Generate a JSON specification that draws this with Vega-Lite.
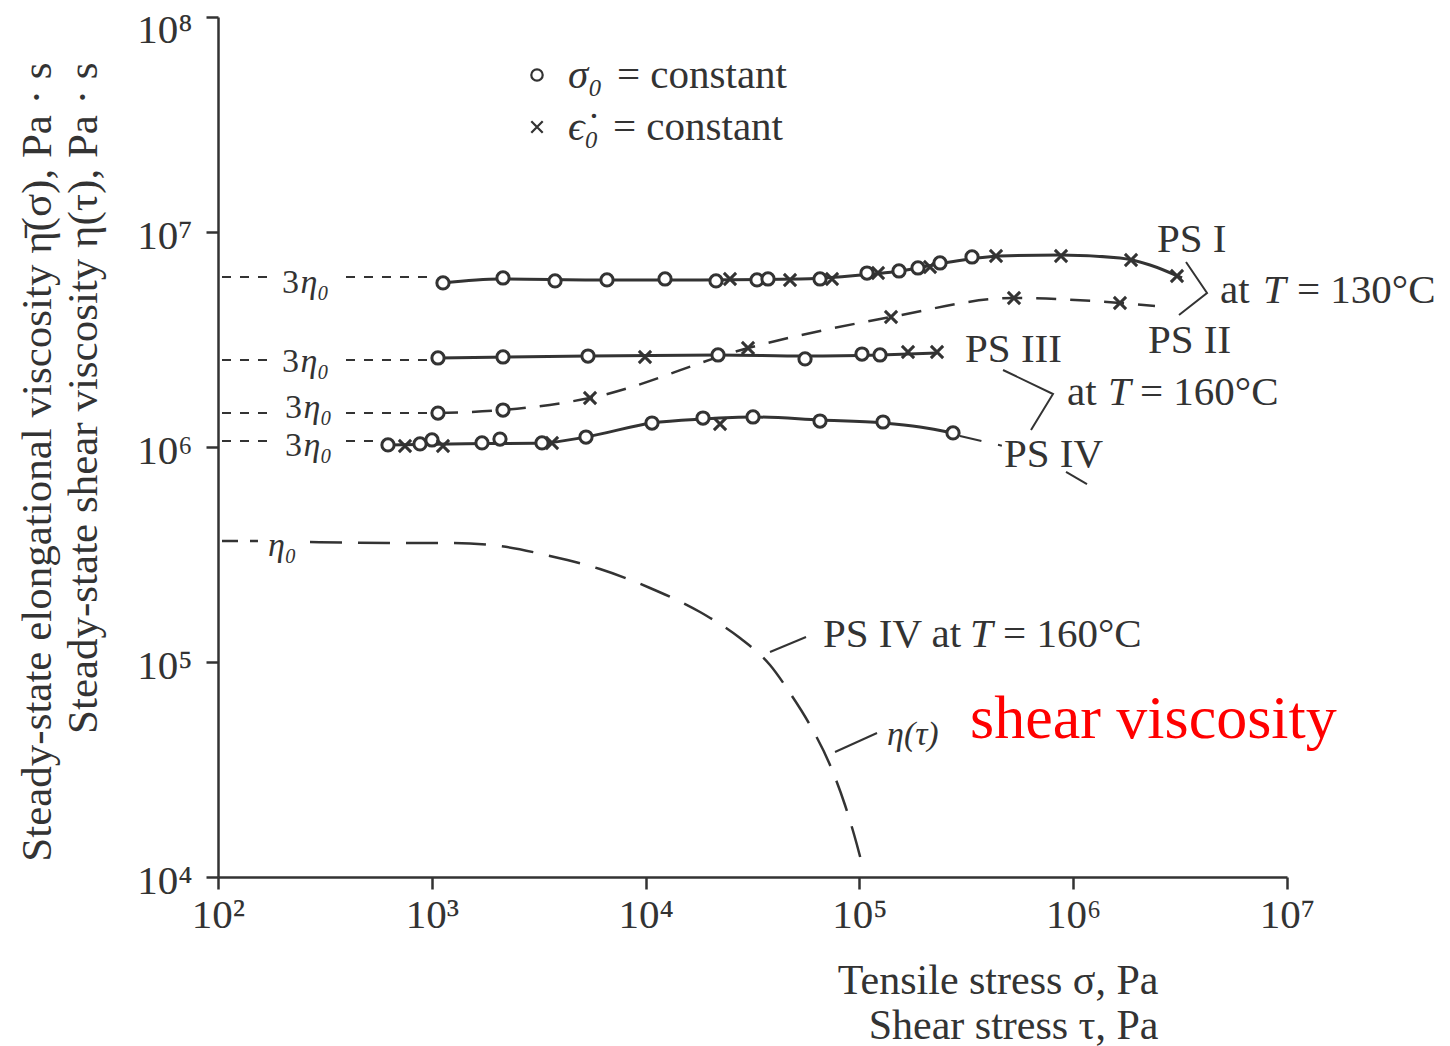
{
  "$schema": "https://vega.github.io/schema/vega-lite/v6.json",
  "width": 1069,
  "height": 860,
  "autosize": {"type": "none"},
  "padding": {"left": 218, "top": 17, "right": 163, "bottom": 169},
  "background": "white",
  "config": {
    "view": {"stroke": null},
    "font": "Liberation Serif"
  },
  "datasets": {
    "curves": [
      {"s": "PS I", "x": 1128, "y": 5793000}, {"s": "PS I", "x": 2084, "y": 6046000}, {"s": "PS I", "x": 6119, "y": 5982000},
      {"s": "PS I", "x": 17970, "y": 5982000}, {"s": "PS I", "x": 52757, "y": 6046000}, {"s": "PS I", "x": 90360, "y": 6243000},
      {"s": "PS I", "x": 154860, "y": 6586000}, {"s": "PS I", "x": 265300, "y": 7252000}, {"s": "PS I", "x": 454650, "y": 7734000},
      {"s": "PS I", "x": 867600, "y": 7817000}, {"s": "PS I", "x": 1655000, "y": 7570000}, {"s": "PS I", "x": 2287000, "y": 7023000},
      {"s": "PS I", "x": 3228000, "y": 6111000},
      {"s": "PS III", "x": 1069, "y": 2594000}, {"s": "PS III", "x": 5378, "y": 2650000}, {"s": "PS III", "x": 21817, "y": 2679000},
      {"s": "PS III", "x": 55680, "y": 2650000}, {"s": "PS III", "x": 124850, "y": 2679000}, {"s": "PS III", "x": 230700, "y": 2736000},
      {"s": "PS IV", "x": 623.9, "y": 1022000}, {"s": "PS IV", "x": 1217, "y": 1033000}, {"s": "PS IV", "x": 3276, "y": 1044000},
      {"s": "PS IV", "x": 5263, "y": 1113000}, {"s": "PS IV", "x": 10713, "y": 1293000}, {"s": "PS IV", "x": 18555, "y": 1350000},
      {"s": "PS IV", "x": 31793, "y": 1379000}, {"s": "PS IV", "x": 65423, "y": 1335000}, {"s": "PS IV", "x": 128950, "y": 1293000},
      {"s": "PS IV", "x": 192030, "y": 1239000}, {"s": "PS IV", "x": 274050, "y": 1162000}
    ],
    "ps2": [
      {"x": 1069, "y": 1439000}, {"x": 2153, "y": 1486000}, {"x": 5495, "y": 1690000}, {"x": 30128, "y": 2887000},
      {"x": 140570, "y": 4024000}, {"x": 528500, "y": 4932000}, {"x": 1655000, "y": 4675000}, {"x": 2413000, "y": 4528000}
    ],
    "marks": [
      {"s": "PS I", "x": 1128, "y": 5793000, "m": "o"}, {"s": "PS I", "x": 2153, "y": 6111000, "m": "o"},
      {"s": "PS I", "x": 3770, "y": 5918000, "m": "o"}, {"s": "PS I", "x": 6598, "y": 5982000, "m": "o"},
      {"s": "PS I", "x": 12325, "y": 6046000, "m": "o"}, {"s": "PS I", "x": 21352, "y": 5918000, "m": "o"},
      {"s": "PS I", "x": 24812, "y": 6046000, "m": "x"}, {"s": "PS I", "x": 33195, "y": 5982000, "m": "o"},
      {"s": "PS I", "x": 37369, "y": 6046000, "m": "o"}, {"s": "PS I", "x": 47365, "y": 5982000, "m": "x"},
      {"s": "PS I", "x": 65423, "y": 6046000, "m": "o"}, {"s": "PS I", "x": 74453, "y": 6046000, "m": "x"},
      {"s": "PS I", "x": 108530, "y": 6446000, "m": "o"}, {"s": "PS I", "x": 122190, "y": 6446000, "m": "x"},
      {"s": "PS I", "x": 153200, "y": 6586000, "m": "o"}, {"s": "PS I", "x": 187950, "y": 6801000, "m": "o"},
      {"s": "PS I", "x": 213900, "y": 6875000, "m": "x"}, {"s": "PS I", "x": 238280, "y": 7175000, "m": "o"},
      {"s": "PS I", "x": 336330, "y": 7652000, "m": "o"}, {"s": "PS I", "x": 435500, "y": 7734000, "m": "x"},
      {"s": "PS I", "x": 877000, "y": 7734000, "m": "x"}, {"s": "PS I", "x": 1864000, "y": 7409000, "m": "x"},
      {"s": "PS I", "x": 3058000, "y": 6243000, "m": "x"},
      {"s": "PS III", "x": 1069, "y": 2594000, "m": "o"}, {"s": "PS III", "x": 2153, "y": 2622000, "m": "o"},
      {"s": "PS III", "x": 5378, "y": 2650000, "m": "o"}, {"s": "PS III", "x": 9935, "y": 2622000, "m": "x"},
      {"s": "PS III", "x": 21817, "y": 2679000, "m": "o"}, {"s": "PS III", "x": 55680, "y": 2567000, "m": "o"},
      {"s": "PS III", "x": 102840, "y": 2707000, "m": "o"}, {"s": "PS III", "x": 124850, "y": 2679000, "m": "o"},
      {"s": "PS III", "x": 168780, "y": 2766000, "m": "x"}, {"s": "PS III", "x": 230700, "y": 2766000, "m": "x"},
      {"s": "PS II", "x": 1069, "y": 1439000, "m": "o"}, {"s": "PS II", "x": 2153, "y": 1486000, "m": "o"},
      {"s": "PS II", "x": 5495, "y": 1690000, "m": "x"}, {"s": "PS II", "x": 30128, "y": 2887000, "m": "x"},
      {"s": "PS II", "x": 140570, "y": 4024000, "m": "x"}, {"s": "PS II", "x": 528500, "y": 4932000, "m": "x"},
      {"s": "PS II", "x": 1655000, "y": 4675000, "m": "x"},
      {"s": "PS IV", "x": 623.9, "y": 1022000, "m": "o"}, {"s": "PS IV", "x": 749.2, "y": 1011000, "m": "x"},
      {"s": "PS IV", "x": 880.9, "y": 1033000, "m": "o"}, {"s": "PS IV", "x": 1002, "y": 1078000, "m": "o"},
      {"s": "PS IV", "x": 1128, "y": 1011000, "m": "x"}, {"s": "PS IV", "x": 1717, "y": 1044000, "m": "o"},
      {"s": "PS IV", "x": 2084, "y": 1089000, "m": "o"}, {"s": "PS IV", "x": 3276, "y": 1044000, "m": "o"},
      {"s": "PS IV", "x": 3649, "y": 1044000, "m": "x"}, {"s": "PS IV", "x": 5263, "y": 1113000, "m": "o"},
      {"s": "PS IV", "x": 10713, "y": 1293000, "m": "o"}, {"s": "PS IV", "x": 18555, "y": 1364000, "m": "o"},
      {"s": "PS IV", "x": 22292, "y": 1279000, "m": "x"}, {"s": "PS IV", "x": 31793, "y": 1379000, "m": "o"},
      {"s": "PS IV", "x": 65423, "y": 1321000, "m": "o"}, {"s": "PS IV", "x": 128950, "y": 1307000, "m": "o"},
      {"s": "PS IV", "x": 274050, "y": 1162000, "m": "o"}
    ],
    "legendkeys": [
      {"x": 3105, "y": 53740000, "m": "o"},
      {"x": 3105, "y": 30780000, "m": "x"}
    ],
    "eta": [
      {"x": 269.3, "y": 361500}, {"x": 710, "y": 357600}, {"x": 1217, "y": 357600}, {"x": 2084, "y": 346300},
      {"x": 3571, "y": 311200}, {"x": 6119, "y": 270700}, {"x": 10485, "y": 220900}, {"x": 17970, "y": 170800},
      {"x": 27637, "y": 129300}, {"x": 38183, "y": 96840}, {"x": 47365, "y": 71750}, {"x": 58736, "y": 50930},
      {"x": 72866, "y": 33190}, {"x": 85620, "y": 21620}, {"x": 97440, "y": 14090}, {"x": 103950, "y": 11010}
    ],
    "leaders": [
      {"x": 104.4, "x2": 175.1, "y": 6177000}, {"x": 396.9, "x2": 1046, "y": 6177000},
      {"x": 104.4, "x2": 186.7, "y": 2539000}, {"x": 396.9, "x2": 1002, "y": 2539000},
      {"x": 104.4, "x2": 186.7, "y": 1439000}, {"x": 396.9, "x2": 980.8, "y": 1439000},
      {"x": 104.4, "x2": 186.7, "y": 1066000}, {"x": 396.9, "x2": 584.8, "y": 1066000}
    ],
    "eta0lead": [{"x": 104.4, "x2": 153.8, "y": 365400}],
    "tail": [{"x": 295420, "y": 1125000}, {"x": 469600, "y": 1011000}],
    "ann": [
      {"g": "b130", "o": 1, "x": 3370000, "y": 7252000}, {"g": "b130", "o": 2, "x": 4226000, "y": 5204000}, {"g": "b130", "o": 3, "x": 3125000, "y": 4111000},
      {"g": "b160", "o": 1, "x": 469600, "y": 2281000}, {"g": "b160", "o": 2, "x": 804400, "y": 1764000}, {"g": "b160", "o": 3, "x": 634800, "y": 1200000},
      {"g": "iv", "o": 1, "x": 925500, "y": 765200}, {"g": "iv", "o": 2, "x": 1160000, "y": 672700},
      {"g": "ps4", "o": 1, "x": 38183, "y": 111300}, {"g": "ps4", "o": 2, "x": 56282, "y": 130700},
      {"g": "etat", "o": 1, "x": 76897, "y": 38140}, {"g": "etat", "o": 2, "x": 120880, "y": 46750}
    ],
    "labels": [
      {"k": "a", "t": "PS I", "x": 2466000, "y": 8072000},
      {"k": "a", "t": "at", "x": 4860000, "y": 4675000},
      {"k": "ai", "t": "T", "x": 7722000, "y": 4675000},
      {"k": "a", "t": "= 130°C", "x": 11135000, "y": 4675000},
      {"k": "a", "t": "PS II", "x": 2238000, "y": 2736000},
      {"k": "a", "t": "PS III", "x": 311900, "y": 2486000},
      {"k": "a", "t": "at", "x": 935500, "y": 1568000},
      {"k": "ai", "t": "T", "x": 1455000, "y": 1568000},
      {"k": "a", "t": "= 160°C", "x": 2053000, "y": 1568000},
      {"k": "a", "t": "PS IV", "x": 474700, "y": 807200},
      {"k": "a", "t": "PS IV at", "x": 67548, "y": 117430},
      {"k": "ai", "t": "T", "x": 329180, "y": 117430},
      {"k": "a", "t": "= 160°C", "x": 469600, "y": 117430},
      {"k": "ai", "t": "σ₀", "x": 4336, "y": 46750000},
      {"k": "a", "t": "= constant", "x": 7348, "y": 46750000},
      {"k": "ai", "t": "ϵ̇₀", "x": 4336, "y": 26790000},
      {"k": "a", "t": "= constant", "x": 7038, "y": 26790000},
      {"k": "b", "t": "3", "x": 199.3, "y": 5204000},
      {"k": "bi", "t": "η₀", "x": 243, "y": 5204000},
      {"k": "b", "t": "3", "x": 199.3, "y": 2233000},
      {"k": "bi", "t": "η₀", "x": 243, "y": 2233000},
      {"k": "b", "t": "3", "x": 205.8, "y": 1364000},
      {"k": "bi", "t": "η₀", "x": 251, "y": 1364000},
      {"k": "b", "t": "3", "x": 205.8, "y": 908100},
      {"k": "bi", "t": "η₀", "x": 251, "y": 908100},
      {"k": "bi", "t": "η₀", "x": 171.3, "y": 311200},
      {"k": "bi", "t": "η(τ)", "x": 134630, "y": 41110},
      {"k": "r", "t": "shear viscosity", "x": 329180, "y": 44310}
    ]
  },
  "encoding": {
    "x": {
      "field": "x", "type": "quantitative",
      "scale": {"type": "log", "domain": [100, 10000000], "nice": false},
      "axis": {
        "values": [100, 1000, 10000, 100000, 1000000, 10000000],
        "labelExpr": "'10' + ['⁰','¹','²','³','⁴','⁵','⁶','⁷','⁸','⁹'][round(log(datum.value)/LN10)]",
        "labelFont": "Liberation Serif", "labelFontSize": 41, "labelColor": "#333",
        "labelFlush": false, "labelOverlap": false, "labelPadding": 6,
        "tickSize": 12, "tickWidth": 2.5, "tickColor": "#333",
        "domainColor": "#333", "domainWidth": 2.5, "grid": false,
        "title": ["Tensile stress σ, Pa", "Shear stress τ, Pa"],
        "titleFont": "Liberation Serif", "titleFontSize": 42, "titleFontWeight": "normal", "titleColor": "#333",
        "titleAlign": "right", "titleX": 940, "titleY": 116, "titleBaseline": "alphabetic", "titleLineHeight": 45
      }
    },
    "y": {
      "field": "y", "type": "quantitative",
      "scale": {"type": "log", "domain": [10000, 100000000], "nice": false},
      "axis": {
        "values": [10000, 100000, 1000000, 10000000, 100000000],
        "labelExpr": "'10' + ['⁰','¹','²','³','⁴','⁵','⁶','⁷','⁸','⁹'][round(log(datum.value)/LN10)]",
        "labelFont": "Liberation Serif", "labelFontSize": 41, "labelColor": "#333",
        "labelFlush": false, "labelOverlap": false, "labelPadding": 14, "labelBaseline": "middle",
        "labelOffset": {"condition": {"test": "datum.value > 50000000", "value": 13}, "value": 4},
        "tickSize": 12, "tickWidth": 2.5, "tickColor": "#333",
        "domainColor": "#333", "domainWidth": 2.5, "grid": false,
        "title": ["Steady-state elongational viscosity η̄(σ), Pa · s", "Steady-state shear viscosity η(τ), Pa · s"],
        "titleFont": "Liberation Serif", "titleFontSize": 43, "titleFontWeight": "normal", "titleColor": "#333",
        "titleAngle": -90, "titleAlign": "right", "titleX": -168, "titleY": 45, "titleBaseline": "alphabetic", "titleLineHeight": 46
      }
    }
  },
  "layer": [
    {
      "data": {"name": "leaders"},
      "mark": {"type": "rule", "color": "#333", "strokeWidth": 2, "strokeDash": [9, 9]},
      "encoding": {"x2": {"field": "x2"}}
    },
    {
      "data": {"name": "eta0lead"},
      "mark": {"type": "rule", "color": "#333", "strokeWidth": 2.5, "strokeDash": [16, 12]},
      "encoding": {"x2": {"field": "x2"}}
    },
    {
      "data": {"name": "eta"},
      "mark": {"type": "line", "color": "#333", "strokeWidth": 2.5, "strokeDash": [32, 16], "interpolate": "monotone"},
      "encoding": {}
    },
    {
      "data": {"name": "ps2"},
      "mark": {"type": "line", "color": "#333", "strokeWidth": 2.5, "strokeDash": [20, 14], "interpolate": "monotone"},
      "encoding": {}
    },
    {
      "data": {"name": "curves"},
      "mark": {"type": "line", "color": "#333", "strokeWidth": 3, "interpolate": "monotone"},
      "encoding": {"detail": {"field": "s"}}
    },
    {
      "data": {"name": "tail"},
      "mark": {"type": "line", "color": "#333", "strokeWidth": 2, "strokeDash": [22, 17, 4, 60]},
      "encoding": {}
    },
    {
      "data": {"name": "ann"},
      "mark": {"type": "line", "color": "#333", "strokeWidth": 2},
      "encoding": {"detail": {"field": "g"}, "order": {"field": "o"}}
    },
    {
      "data": {"name": "marks"},
      "mark": {"type": "point", "filled": false, "color": "#333", "fill": "white", "stroke": "#333", "strokeWidth": 3, "size": 150, "opacity": 1},
      "encoding": {
        "shape": {
          "field": "m", "type": "nominal",
          "scale": {"domain": ["o", "x"], "range": ["circle", "M-1,-1L1,1M-1,1L1,-1"]},
          "legend": null
        }
      }
    },
    {
      "data": {"name": "legendkeys"},
      "mark": {"type": "point", "filled": false, "color": "#333", "fill": "white", "stroke": "#333", "strokeWidth": 2.2, "size": 130, "opacity": 1},
      "encoding": {
        "shape": {"field": "m", "type": "nominal", "legend": null}
      }
    },
    {
      "data": {"name": "labels"},
      "transform": [{"filter": "datum.k == 'a'"}],
      "mark": {"type": "text", "align": "left", "baseline": "alphabetic", "font": "Liberation Serif", "fontSize": 41, "color": "#333"},
      "encoding": {"text": {"field": "t"}}
    },
    {
      "data": {"name": "labels"},
      "transform": [{"filter": "datum.k == 'ai'"}],
      "mark": {"type": "text", "align": "left", "baseline": "alphabetic", "font": "Liberation Serif", "fontStyle": "italic", "fontSize": 41, "color": "#333"},
      "encoding": {"text": {"field": "t"}}
    },
    {
      "data": {"name": "labels"},
      "transform": [{"filter": "datum.k == 'b'"}],
      "mark": {"type": "text", "align": "left", "baseline": "alphabetic", "font": "Liberation Serif", "fontSize": 34, "color": "#333"},
      "encoding": {"text": {"field": "t"}}
    },
    {
      "data": {"name": "labels"},
      "transform": [{"filter": "datum.k == 'bi'"}],
      "mark": {"type": "text", "align": "left", "baseline": "alphabetic", "font": "Liberation Serif", "fontStyle": "italic", "fontSize": 34, "color": "#333"},
      "encoding": {"text": {"field": "t"}}
    },
    {
      "data": {"name": "labels"},
      "transform": [{"filter": "datum.k == 'r'"}],
      "mark": {"type": "text", "align": "left", "baseline": "alphabetic", "font": "Liberation Serif", "fontSize": 62, "color": "#ff0000"},
      "encoding": {"text": {"field": "t"}}
    }
  ]
}
